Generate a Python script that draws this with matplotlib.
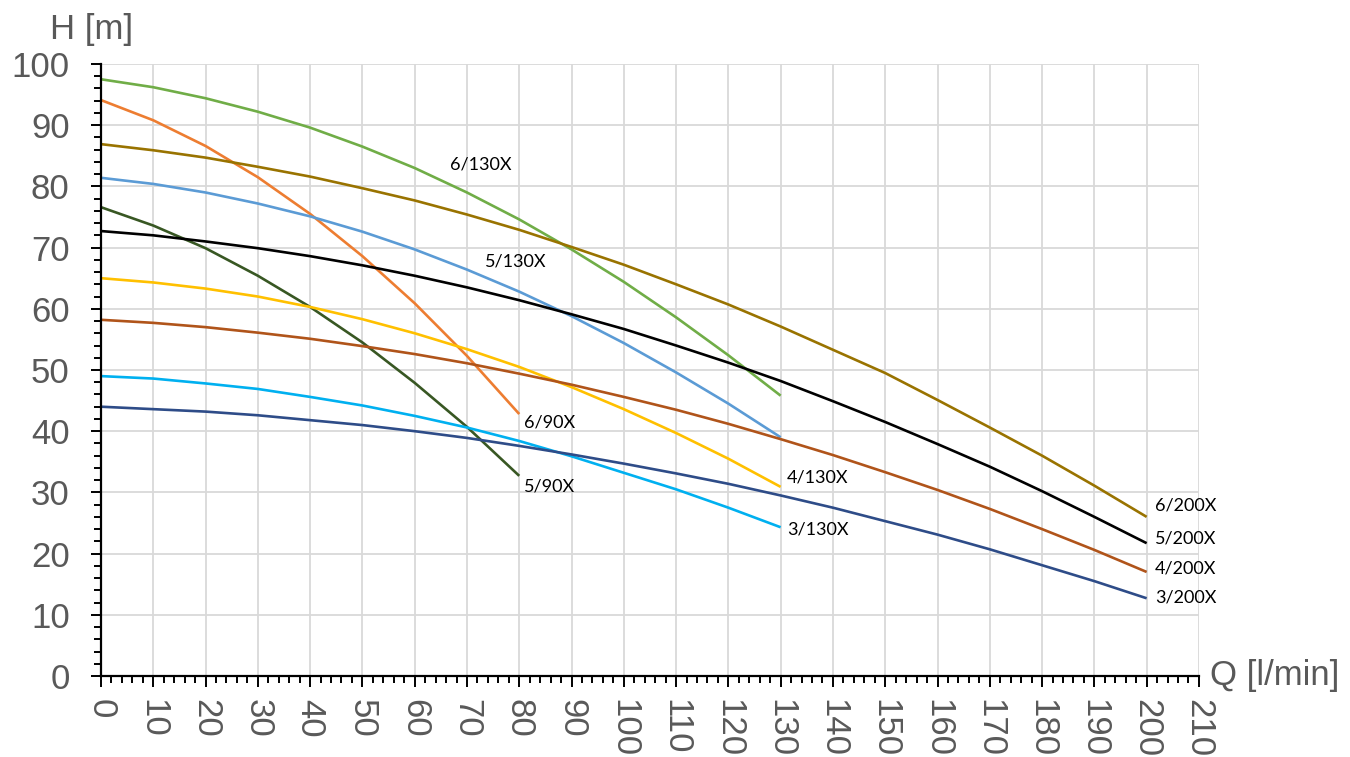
import matplotlib
matplotlib.use('Agg')
import matplotlib.pyplot as plt
from matplotlib.ticker import MultipleLocator

# flow [l/min] and head [m]
q_90 = [0, 10, 20, 30, 40, 50, 60, 70, 80]
q_130 = [0, 10, 20, 30, 40, 50, 60, 70, 80, 90, 100, 110, 120, 130]
q_200 = [0, 10, 20, 30, 40, 50, 60, 70, 80, 90, 100, 110, 120, 130, 140, 150,
         160, 170, 180, 190, 200]

h_6_130 = [97.5, 96.2, 94.4, 92.2, 89.6, 86.5, 83.0, 79.0, 74.6, 69.7, 64.4, 58.6, 52.4, 45.8]
h_6_90 = [94.1, 90.8, 86.6, 81.5, 75.5, 68.6, 60.9, 52.3, 42.8]
h_6_200 = [86.9, 85.9, 84.7, 83.2, 81.6, 79.7, 77.7, 75.4, 72.9, 70.1, 67.2, 64.0, 60.7,
           57.1, 53.3, 49.5, 45.1, 40.6, 36.0, 31.1, 26.0]
h_5_130 = [81.4, 80.4, 79.0, 77.2, 75.1, 72.6, 69.7, 66.4, 62.8, 58.8, 54.4, 49.6, 44.5, 39.0]
h_5_90 = [76.6, 73.6, 69.9, 65.4, 60.3, 54.5, 47.9, 40.7, 32.7]
h_5_200 = [72.7, 72.0, 71.0, 69.9, 68.6, 67.1, 65.4, 63.5, 61.4, 59.1, 56.7, 54.0, 51.2,
           48.2, 44.9, 41.5, 37.9, 34.2, 30.2, 26.0, 21.7]
h_4_130 = [65.0, 64.3, 63.3, 62.0, 60.3, 58.3, 56.0, 53.4, 50.5, 47.2, 43.6, 39.7, 35.5, 30.9]
h_4_200 = [58.2, 57.7, 57.0, 56.1, 55.1, 53.9, 52.6, 51.1, 49.4, 47.6, 45.6, 43.5, 41.2,
           38.7, 36.1, 33.3, 30.4, 27.3, 24.0, 20.6, 17.0]
h_3_130 = [49.0, 48.6, 47.8, 46.9, 45.6, 44.2, 42.5, 40.6, 38.4, 35.9, 33.2, 30.5, 27.5, 24.3]
h_3_200 = [44.0, 43.6, 43.2, 42.6, 41.8, 41.0, 40.0, 38.9, 37.6, 36.2, 34.7, 33.1, 31.4,
           29.5, 27.5, 25.3, 23.1, 20.7, 18.1, 15.5, 12.7]

names = ['6/130X', '6/90X', '6/200X', '5/130X', '5/90X', '5/200X',
         '4/130X', '4/200X', '3/130X', '3/200X']
flows = [q_130, q_90, q_200, q_130, q_90, q_200, q_130, q_200, q_130, q_200]
heads = [h_6_130, h_6_90, h_6_200, h_5_130, h_5_90, h_5_200,
         h_4_130, h_4_200, h_3_130, h_3_200]
colors = ['#70AD47', '#ED7D31', '#997300', '#5B9BD5', '#385723', '#000000',
          '#FFC000', '#B0541A', '#00B0F0', '#2E4C88']
# where each curve label sits (data coords, left edge / vertical centre)
label_pos = [(66.7, 83.5), (80.9, 41.5), (201.6, 27.9), (73.4, 67.7), (80.9, 30.9),
             (201.6, 22.4), (131.2, 32.5), (201.6, 17.5), (131.2, 24.0), (201.6, 12.9)]

plt.rcParams['font.family'] = ['Liberation Sans', 'DejaVu Sans']

fig = plt.figure(figsize=(13.5, 7.57), dpi=100)
ax = fig.add_axes([0.0748, 0.107, 0.8133, 0.8085])

for q, h, c in zip(flows, heads, colors):
    ax.plot(q, h, color=c, lw=1.9, solid_capstyle='butt', zorder=3)

for name, (lx, ly) in zip(names, label_pos):
    ax.text(lx, ly, name, ha='left', va='center', fontsize=13,
            family=['Lato', 'DejaVu Sans'], color='#000000', zorder=4)

ax.set_xlim(0, 210)
ax.set_ylim(0, 100)
ax.xaxis.set_major_locator(MultipleLocator(10))
ax.xaxis.set_minor_locator(MultipleLocator(2))
ax.yaxis.set_major_locator(MultipleLocator(10))
ax.yaxis.set_minor_locator(MultipleLocator(2))
ax.grid(True, which='major', color='#D9D9D9', lw=1.3, zorder=0)
ax.set_axisbelow(True)

for s in ['top', 'right']:
    ax.spines[s].set_visible(False)
for s in ['left', 'bottom']:
    ax.spines[s].set_linewidth(1.6)
    ax.spines[s].set_color('black')
    ax.spines[s].set_zorder(5)

ax.tick_params(axis='both', which='both', direction='out', color='black',
               labelcolor='#595959', labelsize=25, width=1.4)
ax.tick_params(axis='x', which='major', length=8, pad=8.5, labelrotation=270)
ax.tick_params(axis='x', which='minor', length=5)
ax.tick_params(axis='y', which='major', length=7.5, pad=15)
ax.tick_params(axis='y', which='minor', length=5)
for lbl in ax.get_xticklabels():
    lbl.set_ha('center')
    lbl.set_va('top')

fig.text(50 / 1350, 1 - 30 / 757, 'H [m]', fontsize=25, color='#595959',
         ha='left', va='center')
fig.text(1210 / 1350, 1 - 675 / 757, 'Q [l/min]', fontsize=25, color='#595959',
         ha='left', va='center')

fig.savefig('out.png', dpi=100)
